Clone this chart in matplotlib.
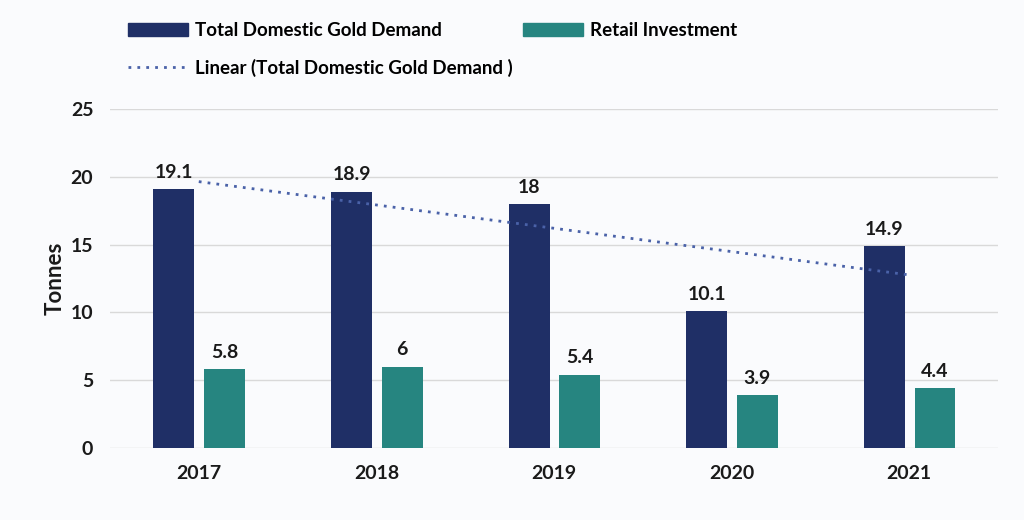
import numpy as np
import matplotlib.pyplot as plt
from matplotlib.lines import Line2D
from matplotlib.patches import Patch

years = ['2017', '2018', '2019', '2020', '2021']
total_demand = [19.1, 18.9, 18, 10.1, 14.9]
retail_invest = [5.8, 6, 5.4, 3.9, 4.4]

navy = '#1f2f66'
teal = '#268580'
bg = '#fafbfd'

plt.rcParams['font.family'] = ['Lato', 'DejaVu Sans']
plt.rcParams['font.weight'] = 'bold'

fig = plt.figure(figsize=(10.24, 5.2), dpi=100, facecolor=bg)
ax = fig.add_axes([0.1074, 0.1385, 0.8672, 0.652], facecolor=bg)

x = np.arange(len(years))
w = 0.23
b1 = ax.bar(x - 0.14, total_demand, w, color=navy, zorder=3)
b2 = ax.bar(x + 0.145, retail_invest, w, color=teal, zorder=3)

for bars, vals in ((b1, total_demand), (b2, retail_invest)):
    for r, v in zip(bars, vals):
        ax.annotate(f'{v:g}', (r.get_x() + r.get_width() / 2, r.get_height()),
                    xytext=(0, 6), textcoords='offset points', ha='center', va='bottom',
                    fontsize=14, fontweight='bold', color='#1a1a1a')

# linear trend
k, c = np.polyfit(x, total_demand, 1)
ax.plot(x, k * x + c, linestyle=(0, (1, 2.2)), color='#4a62a8', lw=2, zorder=4)

ax.set_xlim(-0.5, 4.5)
ax.set_ylim(0, 25)
ax.set_yticks(range(0, 26, 5))
ax.set_xticks(x)
ax.set_xticklabels(years)
ax.grid(axis='y', color='#d9d9d9', lw=1, zorder=0)
for s in ax.spines.values():
    s.set_visible(False)
ax.tick_params(length=0, labelsize=14, colors='#1a1a1a')
ax.tick_params(axis='x', pad=12)
ax.tick_params(axis='y', pad=12)
ax.set_ylabel('Tonnes', fontsize=16, fontweight='bold', color='#1a1a1a', labelpad=4)

handles = [Patch(color=navy), Line2D([], [], linestyle=(0, (1, 2.2)), color='#4a62a8', lw=2),
           Patch(color=teal)]
labels = ['Total Domestic Gold Demand', 'Linear (Total Domestic Gold Demand )', 'Retail Investment']
fig.legend(handles, labels, ncol=2, loc='upper left', bbox_to_anchor=(0.118, 0.972),
           borderaxespad=0, frameon=False, fontsize=13.5, handlelength=3.2, handleheight=0.7,
           columnspacing=0.55, labelspacing=1.05, handletextpad=0.35)

fig.savefig('out.png', dpi=100, facecolor=bg)
